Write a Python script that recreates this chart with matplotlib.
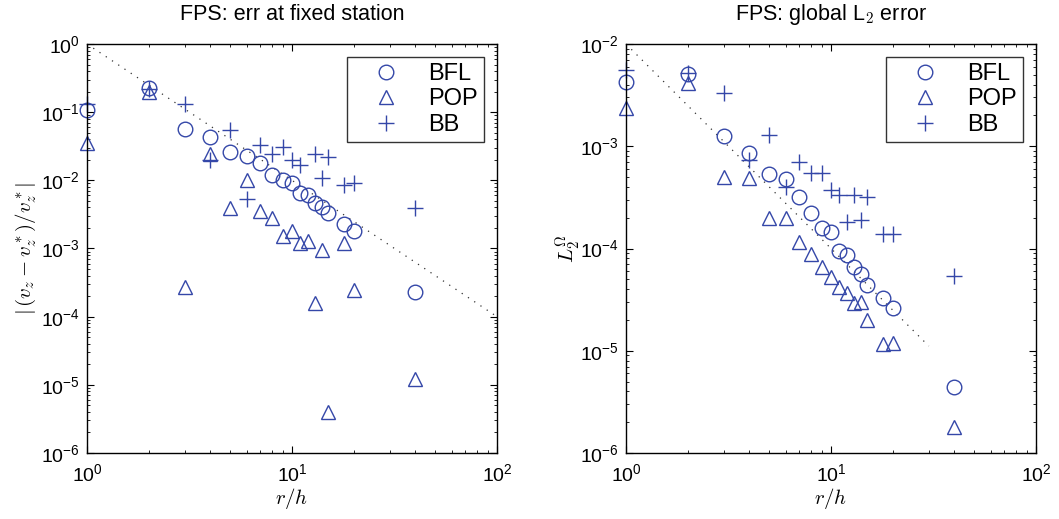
import matplotlib
matplotlib.use("Agg")
import matplotlib.pyplot as plt
import numpy as np

plt.rcParams["font.family"] = ["Liberation Sans", "DejaVu Sans"]
plt.rcParams["mathtext.fontset"] = "cm"

# r/h sample points
R = [1, 2, 3, 4, 5, 6, 7, 8, 9, 10, 11, 12, 13, 14, 15, 18, 20, 40]
R_BB_LEFT = [1, 2, 3, 4, 5, 6, 7, 8, 9, 10, 11, 13, 14, 15, 18, 20, 40]

# left panel: error at fixed station
BFL_STATION = [0.108, 0.226, 0.057, 0.043, 0.026, 0.023, 0.018, 0.012, 0.010, 0.0092,
               0.0065, 0.0061, 0.0047, 0.0041, 0.0033, 0.0023, 0.0018, 0.00023]
POP_STATION = [0.035, 0.198, 0.00027, 0.024, 0.0039, 0.010, 0.0036, 0.0028, 0.0015, 0.0018,
               0.0012, 0.0013, 0.00016, 0.00095, 4.0e-6, 0.0012, 0.00025, 1.2e-5]
BB_STATION = [0.13, 0.22, 0.13, 0.020, 0.055, 0.0053, 0.033, 0.024, 0.031, 0.020,
              0.017, 0.024, 0.011, 0.022, 0.0086, 0.0092, 0.0039]

# right panel: global L2 error
BFL_GLOBAL = [0.00425, 0.0051, 0.00126, 0.00086, 0.00053, 0.00048, 0.00032, 0.00022, 0.00016,
              0.000145, 9.5e-5, 8.7e-5, 6.6e-5, 5.6e-5, 4.4e-5, 3.3e-5, 2.6e-5, 4.4e-6]
POP_GLOBAL = [0.00237, 0.0042, 0.0005, 0.00049, 0.0002, 0.0002, 0.000115, 8.9e-5, 6.6e-5,
              5.3e-5, 4.2e-5, 3.7e-5, 2.9e-5, 3.0e-5, 2.0e-5, 1.17e-5, 1.18e-5, 1.8e-6]
BB_GLOBAL = [0.0056, 0.0052, 0.0033, 0.00074, 0.0013, 0.0004, 0.0007, 0.00055, 0.00055,
             0.00037, 0.00033, 0.00018, 0.00033, 0.00019, 0.00032, 0.00014, 0.00014, 5.4e-5]

# second-order reference slopes
REF_LEFT_X = [1, 100]
REF_LEFT_Y = [1.0, 1.0e-4]
REF_RIGHT_X = [1, 30]
REF_RIGHT_Y = [1.0e-2, 1.0e-2 / 900]

BLUE = "#3447a8"

fig = plt.figure(figsize=(10.59, 5.19), dpi=100)
ax1 = fig.add_axes([87 / 1059, 1 - 453 / 519, 410 / 1059, 409 / 519])
ax2 = fig.add_axes([626 / 1059, 1 - 453 / 519, 410 / 1059, 409 / 519])


def decade_ticks(ax, lo, hi):
    # only ticks inside the view, so nothing sits off the figure
    exps = np.arange(lo, hi + 1)
    ax.set_yticks(10.0 ** exps)
    ax.set_yticks([m * 10.0 ** e for e in exps[:-1] for m in range(2, 10)], minor=True)
    ax.set_xticks([1, 10, 100])
    ax.set_xticks([m * 10.0 ** e for e in (0, 1) for m in range(2, 10)], minor=True)
    ax.xaxis.set_minor_formatter(matplotlib.ticker.NullFormatter())
    ax.yaxis.set_minor_formatter(matplotlib.ticker.NullFormatter())


def draw(ax, bfl, pop, bb, bb_x, ref_x, ref_y, ylim, title, ylabel, ypad):
    ax.loglog(ref_x, ref_y, color="0.2", linestyle=(0, (1, 5)), linewidth=0.9)
    mk = dict(linestyle="none", markerfacecolor="none", markeredgecolor=BLUE,
              markeredgewidth=1.0, clip_on=False)
    ax.loglog(R, bfl, marker="o", markersize=10.5, label="BFL", **mk)
    ax.loglog(R, pop, marker="^", markersize=10.5, label="POP", **mk)
    ax.loglog(bb_x, bb, marker="+", markersize=11, label="BB", **mk)
    decade_ticks(ax, int(np.log10(ylim[0])), int(np.log10(ylim[1])))
    ax.set_xlim(1, 100)
    ax.set_ylim(*ylim)
    ax.tick_params(which="both", direction="in", top=True, right=True, labelsize=14)
    ax.tick_params(which="major", length=5)
    ax.tick_params(which="minor", length=2.5)
    ax.tick_params(axis="x", pad=7)
    ax.tick_params(axis="y", pad=5)
    for s in ax.spines.values():
        s.set_linewidth(1.0)
    ax.set_title(title, fontsize=15.5, pad=17)
    ax.set_xlabel(r"$r/h$", fontsize=15, labelpad=1)
    ax.set_ylabel(ylabel, fontsize=15, labelpad=ypad)
    leg = ax.legend(loc="upper right", fontsize=17, frameon=True, fancybox=False,
                    borderpad=0.25, labelspacing=0.15, handletextpad=0.4,
                    handlelength=2.8, borderaxespad=0.55)
    leg.get_frame().set_edgecolor("black")
    leg.get_frame().set_linewidth(1.0)


draw(ax1, BFL_STATION, POP_STATION, BB_STATION, R_BB_LEFT, REF_LEFT_X, REF_LEFT_Y,
     (1e-6, 1), "FPS: err at fixed station", r"$|\,(v_z - v_z^*)/v_z^*|$", 2)
draw(ax2, BFL_GLOBAL, POP_GLOBAL, BB_GLOBAL, R, REF_RIGHT_X, REF_RIGHT_Y,
     (1e-6, 1e-2), r"FPS: global L$_\mathsf{2}$ error", r"$L_2^\Omega$", -2)

fig.savefig("out.png", dpi=100)
